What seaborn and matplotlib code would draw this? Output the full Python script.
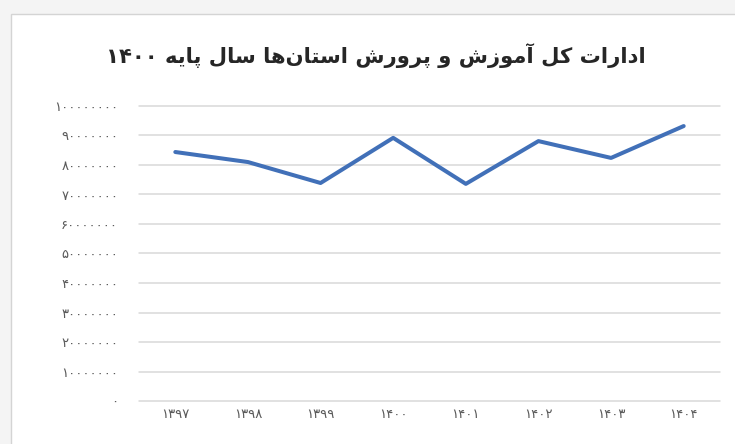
import matplotlib
matplotlib.use("Agg")
import matplotlib.pyplot as plt
import seaborn as sns
import pandas as pd
from matplotlib.patches import Rectangle

# ---------------- data ----------------
title_text = "ادارات کل آموزش و پرورش استان‌ها سال پایه ۱۴۰۰"
years = ["۱۳۹۷", "۱۳۹۸", "۱۳۹۹", "۱۴۰۰", "۱۴۰۱", "۱۴۰۲", "۱۴۰۳", "۱۴۰۴"]
values = [84400000, 81000000, 73900000, 89200000, 73600000, 88100000, 82400000, 93200000]
y_ticks = [0, 10000000, 20000000, 30000000, 40000000, 50000000,
           60000000, 70000000, 80000000, 90000000, 100000000]

# ---------------- minimal Persian shaping ----------------
FORMS = {  # isolated, final, initial, medial
    "ا": ("\uFE8D", "\uFE8E", None, None),
    "آ": ("\uFE81", "\uFE82", None, None),
    "د": ("\uFEA9", "\uFEAA", None, None),
    "ر": ("\uFEAD", "\uFEAE", None, None),
    "ز": ("\uFEAF", "\uFEB0", None, None),
    "و": ("\uFEED", "\uFEEE", None, None),
    "ت": ("\uFE95", "\uFE96", "\uFE97", "\uFE98"),
    "ک": ("\uFB8E", "\uFB8F", "\uFB90", "\uFB91"),
    "ل": ("\uFEDD", "\uFEDE", "\uFEDF", "\uFEE0"),
    "م": ("\uFEE1", "\uFEE2", "\uFEE3", "\uFEE4"),
    "ش": ("\uFEB5", "\uFEB6", "\uFEB7", "\uFEB8"),
    "پ": ("\uFB56", "\uFB57", "\uFB58", "\uFB59"),
    "س": ("\uFEB1", "\uFEB2", "\uFEB3", "\uFEB4"),
    "ن": ("\uFEE5", "\uFEE6", "\uFEE7", "\uFEE8"),
    "ه": ("\uFEE9", "\uFEEA", "\uFEEB", "\uFEEC"),
    "ی": ("\uFBFC", "\uFBFD", "\uFBFE", "\uFBFF"),
}


def dual(c):
    return c in FORMS and FORMS[c][2] is not None


def shape_word(w):
    if not any(c in FORMS for c in w):
        return w
    out = []
    for i, c in enumerate(w):
        if c not in FORMS:
            continue
        prev = w[i - 1] if i > 0 else ""
        nxt = w[i + 1] if i + 1 < len(w) else ""
        jp = dual(prev)
        jn = dual(c) and nxt in FORMS
        f = FORMS[c]
        if jp and jn:
            g = f[3]
        elif jp:
            g = f[1]
        elif jn:
            g = f[2]
        else:
            g = f[0]
        out.append(g)
    return "".join(reversed(out))


def rtl(text):
    return " ".join(reversed([shape_word(w) for w in text.split(" ")]))


def fa_digits(n):
    return str(n).translate(str.maketrans("0123456789", "۰۱۲۳۴۵۶۷۸۹"))


# ---------------- plot ----------------
sns.set_theme(style="white")
plt.rcParams["font.family"] = ["DejaVu Sans"]

fig = plt.figure(figsize=(7.35, 4.44), dpi=100)
fig.patch.set_facecolor("#f4f4f4")
fig.patches.append(Rectangle((11 / 735, -0.1), 1.0, (444 - 14) / 444 + 0.1,
                             transform=fig.transFigure, facecolor="white",
                             edgecolor="#d4d4d4", linewidth=1.0, zorder=-5))

ax = fig.add_axes([139 / 735, 43 / 444, (720 - 139) / 735, (401 - 106) / 444])
ax.set_zorder(1)
ax.patch.set_alpha(0)

df = pd.DataFrame({"year": years, "value": values})
sns.lineplot(data=df, x="year", y="value", ax=ax, color="#4170b8",
             linewidth=2.9, sort=False)

ax.set_xlim(-0.5, len(years) - 0.5)
ax.set_ylim(0, 100000000)
ax.set_yticks(y_ticks)
ax.set_yticklabels([fa_digits(v) for v in y_ticks])
ax.grid(axis="y", color="#d9d9d9", linewidth=1.1)
ax.set_axisbelow(True)
for gl in ax.get_ygridlines():
    gl.set_clip_on(False)
for s in ax.spines.values():
    s.set_visible(False)
ax.tick_params(axis="both", length=0, colors="#595959")
ax.tick_params(axis="y", pad=15, labelsize=9.5)
ax.tick_params(axis="x", pad=5, labelsize=9.5)
ax.set_xlabel("")
ax.set_ylabel("")

fig.text(376 / 735, 1 - 56 / 444, rtl(title_text), ha="center", va="center",
         fontsize=15.2, fontweight="bold", color="#262626", zorder=2)

fig.savefig("out.png", dpi=100, facecolor=fig.get_facecolor())
